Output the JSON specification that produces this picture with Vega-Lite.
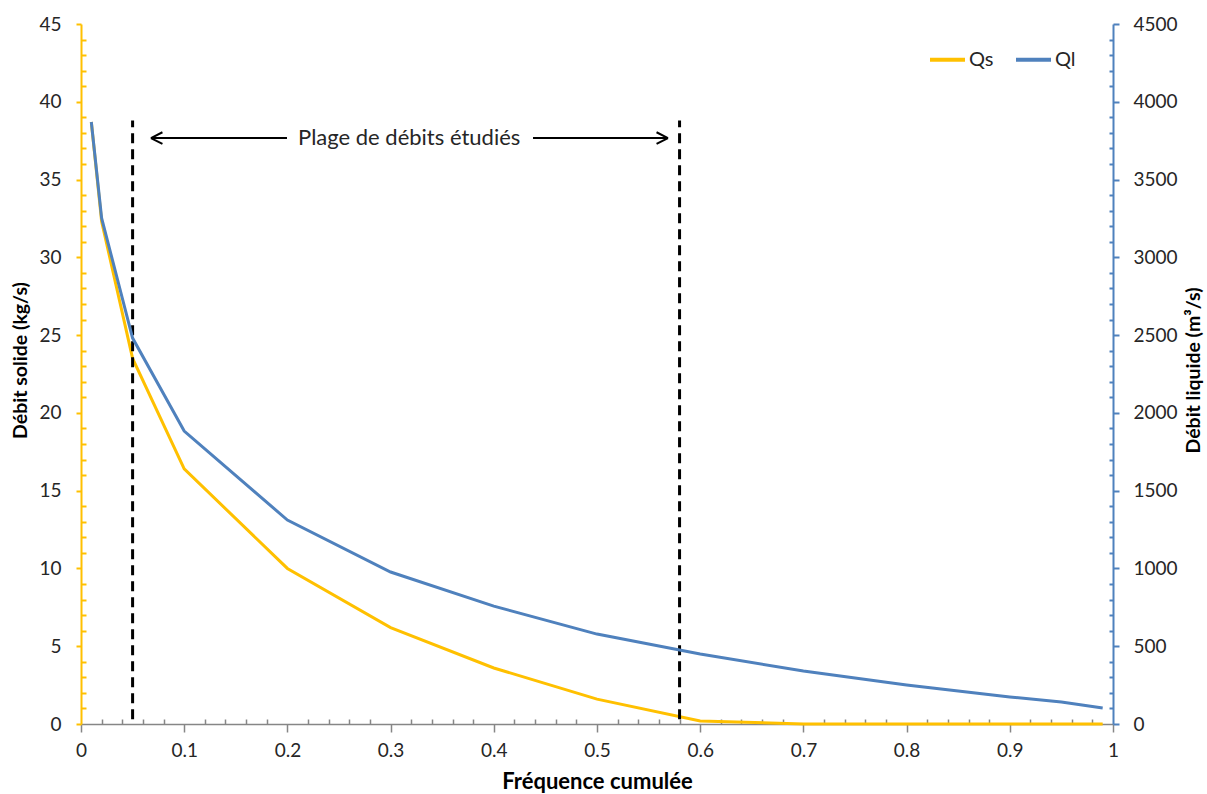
{
  "$schema": "https://vega.github.io/schema/vega-lite/v6.json",
  "width": 1032,
  "height": 700,
  "autosize": "none",
  "padding": {"left": 81, "top": 24, "right": 94, "bottom": 70},
  "background": "white",
  "config": {
    "view": {"stroke": null},
    "font": "Lato",
    "axis": {"grid": false, "labelFont": "Lato", "titleFont": "Lato", "labelFontSize": 19, "labelColor": "#262626", "titleColor": "#000000", "titleFontSize": 19.5, "titleFontWeight": "bold"}
  },
  "datasets": {
    "series": [
      {"f": 0.01, "series": "Qs", "v": 38.7},
      {"f": 0.02, "series": "Qs", "v": 32.3},
      {"f": 0.05, "series": "Qs", "v": 23.5},
      {"f": 0.1, "series": "Qs", "v": 16.4},
      {"f": 0.2, "series": "Qs", "v": 10.0},
      {"f": 0.3, "series": "Qs", "v": 6.2},
      {"f": 0.4, "series": "Qs", "v": 3.6},
      {"f": 0.5, "series": "Qs", "v": 1.6},
      {"f": 0.6, "series": "Qs", "v": 0.2},
      {"f": 0.7, "series": "Qs", "v": 0},
      {"f": 0.8, "series": "Qs", "v": 0},
      {"f": 0.9, "series": "Qs", "v": 0},
      {"f": 0.95, "series": "Qs", "v": 0},
      {"f": 0.99, "series": "Qs", "v": 0},
      {"f": 0.01, "series": "Ql", "v": 3870},
      {"f": 0.02, "series": "Ql", "v": 3252},
      {"f": 0.05, "series": "Ql", "v": 2481},
      {"f": 0.1, "series": "Ql", "v": 1883},
      {"f": 0.2, "series": "Ql", "v": 1311},
      {"f": 0.3, "series": "Ql", "v": 977},
      {"f": 0.4, "series": "Ql", "v": 758},
      {"f": 0.5, "series": "Ql", "v": 578},
      {"f": 0.6, "series": "Ql", "v": 450},
      {"f": 0.7, "series": "Ql", "v": 341},
      {"f": 0.8, "series": "Ql", "v": 251},
      {"f": 0.9, "series": "Ql", "v": 174},
      {"f": 0.95, "series": "Ql", "v": 141},
      {"f": 0.99, "series": "Ql", "v": 103}
    ],
    "bounds": [
      {"f": 0.05, "v": 0.3, "v2": 38.8},
      {"f": 0.58, "v": 0.3, "v2": 38.8}
    ],
    "arrow": [
      {"f": 0.0678, "v": 37.67, "f2": 0.1996, "v2": 37.67},
      {"f": 0.438, "v": 37.67, "f2": 0.5688, "v2": 37.67},
      {"f": 0.0678, "v": 37.67, "f2": 0.0789, "v2": 38.04},
      {"f": 0.0678, "v": 37.67, "f2": 0.0789, "v2": 37.30},
      {"f": 0.5688, "v": 37.67, "f2": 0.5577, "v2": 38.04},
      {"f": 0.5688, "v": 37.67, "f2": 0.5577, "v2": 37.30}
    ],
    "note": [
      {"f": 0.318, "v": 37.67, "label": "Plage de débits étudiés"}
    ]
  },
  "encoding": {
    "x": {"field": "f", "type": "quantitative",
      "scale": {"domain": [0, 1], "nice": false, "zero": false},
      "axis": {
        "title": "Fréquence cumulée",
        "titleFontSize": 22,
        "values": [0,0.02,0.04,0.06,0.08,0.1,0.12,0.14,0.16,0.18,0.2,0.22,0.24,0.26,0.28,0.3,0.32,0.34,0.36,0.38,0.4,0.42,0.44,0.46,0.48,0.5,0.52,0.54,0.56,0.58,0.6,0.62,0.64,0.66,0.68,0.7,0.72,0.74,0.76,0.78,0.8,0.82,0.84,0.86,0.88,0.9,0.92,0.94,0.96,0.98,1],
        "labelExpr": "abs(round(datum.value*10) - datum.value*10) < 0.000001 ? '' + (round(datum.value*10)/10) : ''",
        "domainColor": "#868686", "domainWidth": 1.5,
        "tickColor": "#868686", "tickWidth": 1.5,
        "tickSize": {"condition": {"test": "abs(round(datum.value*10) - datum.value*10) < 0.000001", "value": 8}, "value": -5},
        "labelPadding": 9, "labelFlush": false, "labelOverlap": false,
        "titleX": 516, "titleY": 57, "titleBaseline": "middle"
      }
    }
  },
  "layer": [
    {
      "encoding": {
        "y": {"field": "v", "type": "quantitative",
          "scale": {"domain": [0, 45], "nice": false},
          "axis": {
            "orient": "left",
            "title": "Débit solide (kg/s)",
            "values": [0,1,2,3,4,5,6,7,8,9,10,11,12,13,14,15,16,17,18,19,20,21,22,23,24,25,26,27,28,29,30,31,32,33,34,35,36,37,38,39,40,41,42,43,44,45],
            "labelExpr": "datum.value % 5 === 0 ? datum.label : ''",
            "domainColor": "#FFC000", "domainWidth": 2,
            "tickColor": "#FFC000", "tickWidth": 2,
            "tickSize": {"condition": {"test": "datum.value % 5 === 0", "value": 5}, "value": -5},
            "labelPadding": 15, "labelOverlap": false, "labelFlush": false,
            "titleAngle": 270, "titleBaseline": "middle", "titleAlign": "center",
            "titleX": -61, "titleY": 336
          }
        }
      },
      "layer": [
        {
          "data": {"name": "series"},
          "transform": [{"filter": "datum.series === 'Qs'"}],
          "mark": {"type": "line", "strokeWidth": 3, "clip": false},
          "encoding": {
            "color": {"field": "series", "type": "nominal",
              "scale": {"domain": ["Qs", "Ql"], "range": ["#FFC000", "#4F81BD"]},
              "legend": {
                "title": null, "orient": "none", "direction": "horizontal",
                "legendX": 847, "legendY": 16,
                "symbolType": "stroke", "symbolStrokeWidth": 4, "symbolSize": 1225,
                "labelFontSize": 20, "labelFont": "Lato", "labelColor": "#262626",
                "columnPadding": 14, "labelOffset": 2, "padding": 0
              }
            }
          }
        },
        {
          "data": {"name": "bounds"},
          "mark": {"type": "rule", "color": "black", "strokeWidth": 3, "strokeDash": [10, 6]},
          "encoding": {
            "y2": {"field": "v2"}
          }
        },
        {
          "data": {"name": "arrow"},
          "mark": {"type": "rule", "color": "black", "strokeWidth": 2},
          "encoding": {
            "x2": {"field": "f2"},
            "y2": {"field": "v2"}
          }
        },
        {
          "data": {"name": "note"},
          "mark": {"type": "text", "font": "Lato", "fontSize": 22, "color": "#262626", "align": "center", "baseline": "middle"},
          "encoding": {
            "text": {"field": "label"}
          }
        }
      ]
    },
    {
      "data": {"name": "series"},
      "transform": [{"filter": "datum.series === 'Ql'"}],
      "mark": {"type": "line", "strokeWidth": 3, "clip": false},
      "encoding": {
        "y": {"field": "v", "type": "quantitative",
          "scale": {"domain": [0, 4500], "nice": false},
          "axis": {
            "orient": "right",
            "title": "Débit liquide (m³/s)",
            "values": [0,100,200,300,400,500,600,700,800,900,1000,1100,1200,1300,1400,1500,1600,1700,1800,1900,2000,2100,2200,2300,2400,2500,2600,2700,2800,2900,3000,3100,3200,3300,3400,3500,3600,3700,3800,3900,4000,4100,4200,4300,4400,4500],
            "labelExpr": "datum.value % 500 === 0 ? '' + datum.value : ''",
            "domainColor": "#4F81BD", "domainWidth": 2,
            "tickColor": "#4F81BD", "tickWidth": 2,
            "tickSize": {"condition": {"test": "datum.value % 500 === 0", "value": 6}, "value": -4},
            "labelPadding": 14, "labelOverlap": false, "labelFlush": false,
            "titleAngle": 270, "titleBaseline": "middle", "titleAlign": "center",
            "titleX": 80, "titleY": 346
          }
        },
        "color": {"field": "series", "type": "nominal"}
      }
    }
  ],
  "resolve": {"scale": {"y": "independent"}, "axis": {"y": "independent"}}
}
